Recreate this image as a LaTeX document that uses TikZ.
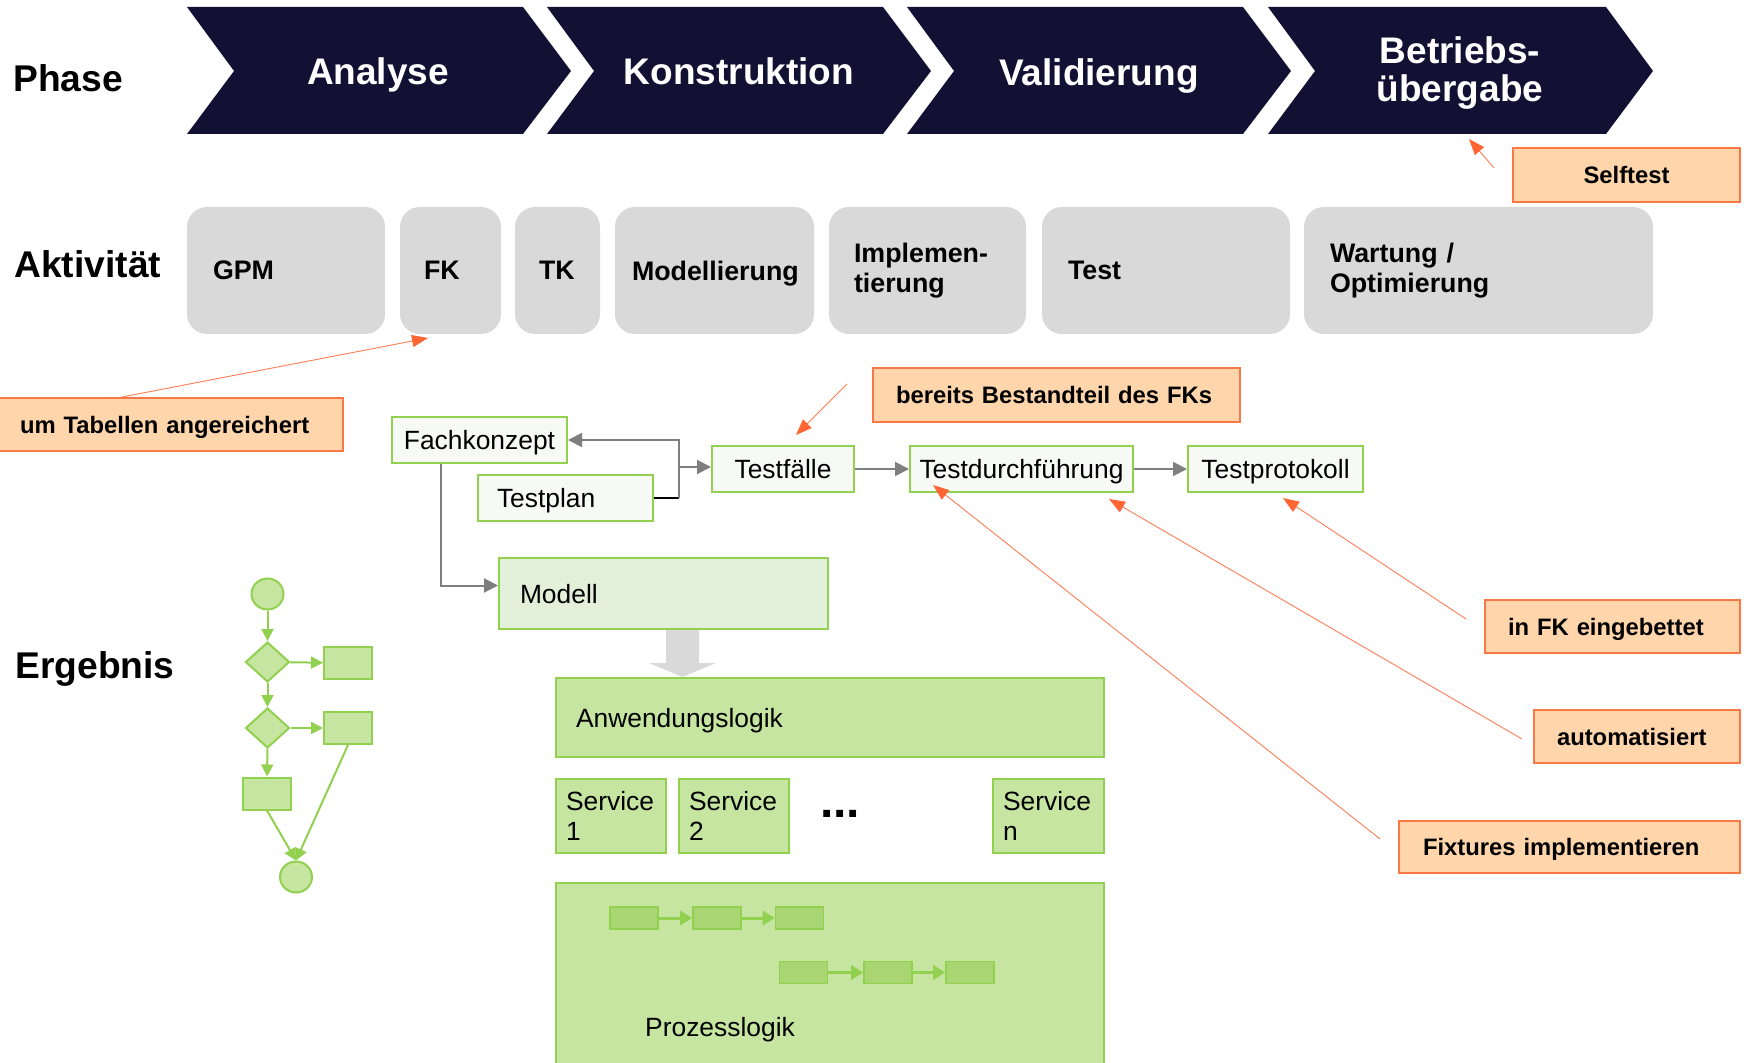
\documentclass[tikz,border=0pt]{standalone}
\usepackage{fontspec}
\setmainfont{Liberation Sans}
\usetikzlibrary{shapes.geometric,arrows.meta,calc}
\definecolor{navy}{RGB}{18,17,52}
\definecolor{actgray}{RGB}{217,217,217}
\definecolor{peach}{RGB}{255,214,172}
\definecolor{peachline}{RGB}{250,120,70}
\definecolor{arrowor}{RGB}{255,102,51}
\definecolor{orline}{RGB}{255,125,85}
\definecolor{grn}{RGB}{146,208,80}
\definecolor{lgrn}{RGB}{197,229,160}
\definecolor{vlgrn}{RGB}{226,239,217}
\definecolor{pale}{RGB}{247,250,244}
\definecolor{midgrn}{RGB}{169,214,115}
\definecolor{arrgray}{RGB}{127,127,127}
\newcommand\mkbox[8]{%
 \pgfmathsetmacro\mbcx{(#3+#5)/2}%
 \pgfmathsetmacro\mbcy{(#4+#6)/2}%
 \pgfmathsetmacro\mbw{(#5-#3)*0.5}%
 \pgfmathsetmacro\mbh{(#6-#4)*0.5}%
 \pgfmathsetmacro\mbtw{(#5-#3-2*#7)*0.5}%
 \pgfmathsetmacro\mbis{#7*0.5}%
 \node[#2, minimum width=\mbw pt, minimum height=\mbh pt, text width=\mbtw pt, inner xsep=\mbis pt, inner ysep=0pt] (#1) at (\mbcx,\mbcy) {#8};}
\begin{document}
\begin{tikzpicture}[x=0.5pt,y=-0.5pt,
  phlabel/.style={font=\fontsize{18.6}{20}\selectfont\bfseries, anchor=base west, inner sep=0pt},
  chevtext/.style={text=white, font=\fontsize{18.5}{19}\selectfont\bfseries, align=center, anchor=base, inner sep=0pt},
  actbox/.style={fill=actgray, rounded corners=10pt, font=\fontsize{13.4}{15}\selectfont\bfseries, align=left, text depth=0pt},
  note/.style={fill=peach, draw=peachline, line width=0.7pt, font=\fontsize{11.9}{13}\selectfont\bfseries, align=left, text depth=0pt},
  notec/.style={note, align=center},
  gbox/.style={fill=pale, draw=grn, line width=1pt, font=\fontsize{13.2}{15}\selectfont, align=center, text depth=0pt},
  gboxl/.style={gbox, align=left},
  mbox/.style={fill=vlgrn, draw=grn, line width=1pt, font=\fontsize{13.2}{15}\selectfont, align=left, text depth=0pt},
  lbox/.style={fill=lgrn, draw=grn, line width=1pt, font=\fontsize{13.2}{15}\selectfont, align=left, text depth=0pt},
  ml/.style={text depth={}},
  garrow/.style={draw=arrgray, line width=1pt, -{Triangle[length=7pt,width=7pt]}},
  oarrow/.style={draw=orline, line width=0.45pt, -{Triangle[length=8pt,width=6pt,color=arrowor]}},
  farrow/.style={draw=grn, line width=1pt, -{Triangle[length=6pt,width=6pt]}},
  parrow/.style={draw=grn, line width=1.5pt, -{Triangle[length=6pt,width=7pt]}},
  fcirc/.style={ellipse, fill=lgrn, draw=grn, line width=1pt, minimum width=16pt, minimum height=15.5pt, inner sep=0pt},
  fdia/.style={diamond, fill=lgrn, draw=grn, line width=1pt, minimum width=22pt, minimum height=20pt, inner sep=0pt},
  frect/.style={rectangle, fill=lgrn, draw=grn, line width=1pt, minimum width=24pt, minimum height=16pt, inner sep=0pt},
  prect/.style={rectangle, fill=midgrn, draw=grn, line width=0.8pt, minimum width=24pt, minimum height=11pt, inner sep=0pt}
]
\useasboundingbox (0,0) rectangle (1744,1063);
\fill[white] (0,0) rectangle (1744,1063);

% Phase row
\node[phlabel] (lphase) at (13,92) {Phase};
\fill[navy] (187,7) -- (523,7) -- (571,71) -- (523,134) -- (187,134) -- (234,71) -- cycle;
\fill[navy] (547,7) -- (883,7) -- (931,71) -- (883,134) -- (547,134) -- (594,71) -- cycle;
\fill[navy] (907,7) -- (1243,7) -- (1291,71) -- (1243,134) -- (907,134) -- (954,71) -- cycle;
\fill[navy] (1268,7) -- (1606,7) -- (1653,71) -- (1606,134) -- (1268,134) -- (1315,71) -- cycle;
\node[chevtext] (ph1) at (378,85) {Analyse};
\node[chevtext] (ph2) at (739,85) {Konstruktion};
\node[chevtext] (ph3) at (1099,85.5) {Validierung};
\node[chevtext] (ph4) at (1460,102) {Betriebs-\\[0pt]übergabe};

% Activity row
\node[phlabel] (lakt) at (14,278) {Aktivität};
\mkbox{gpm}{actbox}{187}{207}{385}{334}{26}{GPM}
\mkbox{fk}{actbox}{400}{207}{501}{334}{24}{FK}
\mkbox{tk}{actbox}{515}{207}{600}{334}{24}{TK}
\mkbox{modl}{actbox}{615}{207}{814}{334}{17}{Modellierung}
\mkbox{impl}{actbox,ml}{829}{207}{1026}{334}{25}{Implemen-\\tierung}
\mkbox{test}{actbox}{1042}{207}{1290}{334}{26}{Test}
\mkbox{wart}{actbox,ml}{1304}{207}{1653}{334}{26}{Wartung /\\Optimierung}

% Notes
\mkbox{selft}{notec}{1513}{148}{1740}{202}{10}{Selftest}
\mkbox{umtab}{note}{-2}{398}{343}{451}{22}{um Tabellen angereichert}
\mkbox{bereits}{note}{873}{368}{1240}{422}{23}{bereits Bestandteil des FKs}
\mkbox{infk}{note}{1485}{600}{1740}{653}{23}{in FK eingebettet}
\mkbox{auto}{note}{1534}{710}{1740}{763}{23}{automatisiert}
\mkbox{fixt}{note}{1399}{821}{1740}{873}{24}{Fixtures implementieren}

% Result label
\node[phlabel] (lerg) at (15,678) {Ergebnis};

% Green boxes
\mkbox{fach}{gbox}{392}{417}{567}{463}{5}{Fachkonzept}
\mkbox{tplan}{gboxl}{478}{475}{653}{521}{19}{Testplan}
\mkbox{testf}{gbox}{712}{446}{854}{492}{5}{Testfälle}
\mkbox{tdurch}{gbox}{910}{446}{1133}{492}{3}{Testdurchführung}
\mkbox{tprot}{gbox}{1188}{446}{1363}{492}{5}{Testprotokoll}
\mkbox{modell}{mbox}{499}{558}{828}{629}{21}{Modell}
\mkbox{anw}{lbox}{556}{678}{1104}{757}{20}{Anwendungslogik}
\mkbox{serv1}{lbox,ml}{556}{779}{666}{853}{10}{Service\\1}
\mkbox{serv2}{lbox,ml}{679}{779}{789}{853}{10}{Service\\2}
\mkbox{servn}{lbox,ml}{993}{779}{1104}{853}{10}{Service\\n}
\node[inner sep=0pt, font=\fontsize{24}{24}\selectfont\bfseries] (dots) at (840,814) {...};
\mkbox{proz}{lbox}{556}{883}{1104}{1080}{10}{}
\node[inner sep=0pt, font=\fontsize{13.2}{15}\selectfont] (prozt) at (720,1030) {Prozesslogik};

% Big gray arrow Modell -> Anwendungslogik
\fill[actgray] (666,630) -- (699,630) -- (699,663) -- (716,663) -- (682.5,677) -- (649,663) -- (666,663) -- cycle;

% Connectors
\coordinate (jx) at (679,467);
\draw[black, line width=1pt] (tplan.east) -- (tplan.east -| jx);
\draw[garrow] (tplan.east -| jx) -- (fach.east -| jx) -- (fach.east);
\draw[garrow] (jx) -- (jx -| testf.west);
\draw[garrow] ($(fach.south west)+(50,0)$) |- ($(modell.west)+(0,-8)$);
\draw[garrow] (testf.east) -- (tdurch.west);
\draw[garrow] (tdurch.east) -- (tprot.west);

% Annotation arrows
\coordinate (oa1) at (122,397);
\coordinate (oe1) at (428,338);
\draw[oarrow] (oa1) -- (oe1);
\coordinate (oa2) at (1494,168);
\coordinate (oe2) at (1469,139);
\draw[oarrow] (oa2) -- (oe2);
\coordinate (oa3) at (847,384);
\coordinate (oe3) at (796,435);
\draw[oarrow] (oa3) -- (oe3);
\coordinate (oa4) at (1466,619);
\coordinate (oe4) at (1283,498);
\draw[oarrow] (oa4) -- (oe4);
\coordinate (oa5) at (1522,739);
\coordinate (oe5) at (1109,499);
\draw[oarrow] (oa5) -- (oe5);
\coordinate (oa6) at (1380,839);
\coordinate (oe6) at (933,485);
\draw[oarrow] (oa6) -- (oe6);

% Flowchart
\node[fcirc] (fs) at (267.5,594) {};
\node[fdia] (fd1) at (267.5,662) {};
\node[frect] (fa1) at (348,663) {};
\node[fdia] (fd2) at (267.5,728) {};
\node[frect] (fa2) at (348,728) {};
\node[frect] (fb) at (267,793.5) {};
\node[fcirc] (fe) at (296,877) {};
\draw[farrow] (fs) -- (fd1);
\draw[farrow] (fd1) -- (fa1);
\draw[farrow] (fd1) -- (fd2);
\draw[farrow] (fd2) -- (fa2);
\draw[farrow] (fd2) -- (fb);
\draw[farrow] (fb.south) -- (fe.north);
\draw[farrow] (fa2.south) -- (fe.north);

% Process chains
\node[prect] (p1) at (634,918) {};
\node[prect] (p2) at (717,918) {};
\node[prect] (p3) at (799.5,918) {};
\node[prect] (q1) at (803.5,972.5) {};
\node[prect] (q2) at (888,972.5) {};
\node[prect] (q3) at (970,972.5) {};
\draw[parrow] (p1) -- (p2);
\draw[parrow] (p2) -- (p3);
\draw[parrow] (q1) -- (q2);
\draw[parrow] (q2) -- (q3);
\end{tikzpicture}
\end{document}
